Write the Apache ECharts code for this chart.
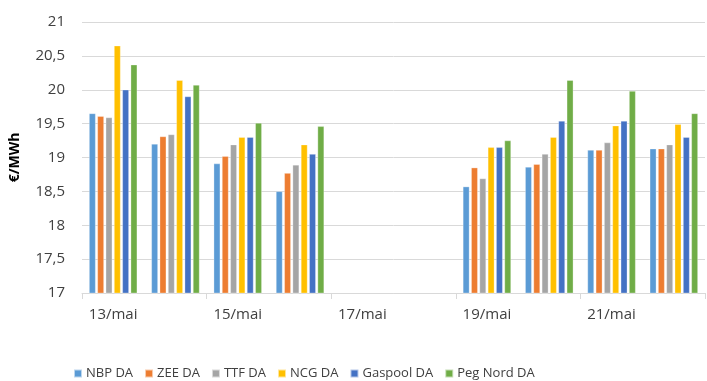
<!DOCTYPE html>
<html>
<head>
<meta charset="utf-8">
<script src="https://cdn.jsdelivr.net/npm/echarts@6/dist/echarts.min.js"></script>
<style>
  html, body { margin: 0; padding: 0; background: #fff; }
  #chart { width: 707px; height: 381px; }
</style>
</head>
<body>
<div id="chart"></div>
<script>
// Day-ahead gas prices by hub (€/MWh); weekend days have no quotes
const days = ['13/mai', '14/mai', '15/mai', '16/mai', '17/mai', '18/mai', '19/mai', '20/mai', '21/mai', '22/mai'];
const nbp     = [19.65, 19.20, 18.91, 18.50, null, null, 18.57, 18.86, 19.11, 19.13];
const zee     = [19.61, 19.31, 19.02, 18.77, null, null, 18.85, 18.90, 19.11, 19.13];
const ttf     = [19.59, 19.34, 19.19, 18.89, null, null, 18.69, 19.05, 19.22, 19.19];
const ncg     = [20.65, 20.14, 19.30, 19.19, null, null, 19.15, 19.30, 19.47, 19.49];
const gaspool = [20.00, 19.90, 19.30, 19.05, null, null, 19.15, 19.54, 19.54, 19.30];
const pegNord = [20.37, 20.07, 19.51, 19.46, null, null, 19.25, 20.14, 19.98, 19.65];

const seriesNames = ['NBP DA', 'ZEE DA', 'TTF DA', 'NCG DA', 'Gaspool DA', 'Peg Nord DA'];
const seriesData = [nbp, zee, ttf, ncg, gaspool, pegNord];
const colors = ['#5B9BD5', '#ED7D31', '#A5A5A5', '#FFC000', '#4472C4', '#70AD47'];
const yTicks = ['17', '17,5', '18', '18,5', '19', '19,5', '20', '20,5', '21'];

const font = "'Open Sans', 'Liberation Sans', sans-serif";

const chart = echarts.init(document.getElementById('chart'), null, { renderer: 'canvas' });
chart.setOption({
  animation: false,
  color: colors,
  textStyle: { fontFamily: font },
  grid: { left: 80, right: 2, top: 22, bottom: 88, containLabel: false },
  legend: {
    top: 362,
    left: 68,
    itemWidth: 8,
    itemHeight: 8,
    itemGap: 11,
    icon: 'rect',
    textStyle: { fontSize: 13, color: '#404040', fontFamily: font, padding: [0, 0, 0, -1] },
    data: seriesNames
  },
  xAxis: {
    type: 'category',
    data: days,
    axisLine: { lineStyle: { color: '#D9D9D9', width: 1 } },
    axisTick: { show: true, interval: 1, length: 6, lineStyle: { color: '#D9D9D9' } },
    axisLabel: { interval: 1, fontSize: 15, color: '#404040', margin: 14, fontFamily: font }
  },
  yAxis: {
    type: 'value',
    min: 17,
    max: 21,
    interval: 0.5,
    name: '€/MWh',
    nameLocation: 'middle',
    nameRotate: 90,
    nameGap: 60,
    nameTextStyle: { fontSize: 14, fontWeight: 'bold', color: '#000', fontFamily: font },
    axisLine: { show: false },
    axisTick: { show: false },
    splitLine: { lineStyle: { color: '#D9D9D9', width: 1 } },
    axisLabel: {
      fontSize: 15,
      color: '#404040',
      margin: 17,
      fontFamily: font,
      formatter: v => yTicks[Math.round((v - 17) / 0.5)]
    }
  },
  series: seriesNames.map((name, i) => ({
    name,
    type: 'bar',
    data: seriesData[i],
    barWidth: 6.5,
    barGap: '28%',
    barCategoryGap: '23%',
    itemStyle: { color: colors[i], borderColor: 'rgba(255,255,255,0.6)', borderWidth: 0.5 }
  }))
});
</script>
</body>
</html>
